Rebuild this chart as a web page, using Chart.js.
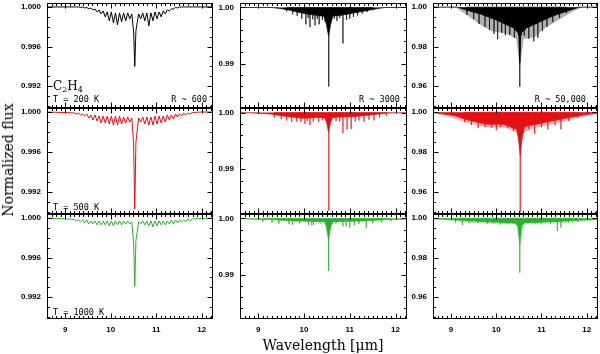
<!DOCTYPE html>
<html>
<head>
<meta charset="utf-8">
<script src="https://cdn.jsdelivr.net/npm/chart.js@4.4.0/dist/chart.umd.min.js"></script>
<style>
  body { margin: 0; background: #fff; }
  #figure { position: relative; width: 600px; height: 354px; overflow: hidden; background: #fff; }
  .panel { position: absolute; }
  .note { position: absolute; white-space: pre; color: #000; line-height: 1; }
  .mono { font: 8.5px 'DejaVu Sans Mono'; }
  .title { font: 14px 'DejaVu Serif'; }
</style>
</head>
<body>
<div id="figure"></div>
<script>
// Tick labels and annotations
const wavelengthTicks = [9, 10, 11, 12];
const fluxTicks600 = [0.992, 0.996, 1.000];
const fluxTicks3000 = [0.99, 1.00];
const fluxTicks50000 = [0.96, 0.98, 1.00];
const temperatureLabels = ['T = 200 K', 'T = 500 K', 'T = 1000 K'];
const resolutionLabels = ['R ~ 600', 'R ~ 3000', 'R ~ 50,000'];

// R ~ 600: wavelength grid and flux per temperature
const wl600 = [8.55, 9.00, 9.20, 9.25, 9.295, 9.34, 9.385, 9.43, 9.475, 9.52, 9.565, 9.61, 9.655, 9.70, 9.745,
  9.79, 9.835, 9.88, 9.925, 9.97, 10.015, 10.06, 10.105, 10.15, 10.195, 10.24, 10.285, 10.33, 10.375, 10.42,
  10.465, 10.505, 10.53, 10.555, 10.615, 10.66, 10.705, 10.75, 10.795, 10.84, 10.885, 10.93, 10.975, 11.02,
  11.065, 11.11, 11.155, 11.20, 11.245, 11.29, 11.335, 11.38, 11.425, 11.47, 11.515, 11.56, 11.605, 11.65,
  11.695, 11.74, 11.80, 12.00, 12.30];
const flux600T200 = [1.0000, 1.0000, 1.0000, 1.0000, 1.0000, 0.99995, 1.0000, 0.9999, 0.99995, 0.9998, 0.9999,
  0.9997, 0.9998, 0.9995, 0.9997, 0.9993, 0.9996, 0.9990, 0.9995, 0.9986, 0.9995, 0.9984, 0.9994, 0.9982,
  0.9994, 0.9985, 0.9994, 0.9986, 0.9994, 0.9988, 0.9993, 0.9975, 0.9940, 0.9976, 0.9993, 0.9988, 0.9994,
  0.9986, 0.9994, 0.9981, 0.9994, 0.9986, 0.9995, 0.9988, 0.9995, 0.9990, 0.9996, 0.9993, 0.9997, 0.9996,
  0.9998, 0.9998, 0.99995, 0.9999, 1.0000, 1.0000, 1.0000, 1.0000, 1.0000, 1.0000, 1.0000, 1.0000, 1.0000];
const flux600T500 = [1.0000, 0.99995, 0.9999, 0.9998, 0.9999, 0.9997, 0.9998, 0.9996, 0.9998, 0.9994, 0.9997,
  0.9992, 0.9997, 0.9991, 0.9996, 0.9989, 0.9996, 0.9989, 0.9996, 0.9988, 0.9996, 0.9987, 0.9996, 0.9987,
  0.9996, 0.9988, 0.9995, 0.9989, 0.9995, 0.9990, 0.9994, 0.9968, 0.9903, 0.9970, 0.9994, 0.9990, 0.9995,
  0.9988, 0.9995, 0.9987, 0.9995, 0.9987, 0.9996, 0.9988, 0.9996, 0.9989, 0.9996, 0.9990, 0.9997, 0.9992,
  0.9997, 0.9993, 0.9998, 0.9995, 0.9998, 0.9996, 0.9999, 0.9997, 0.9999, 0.9998, 0.99995, 1.0000, 1.0000];
const flux600T1000 = [1.0000, 0.9999, 0.99985, 0.9997, 0.9998, 0.9996, 0.9998, 0.9995, 0.9998, 0.9994, 0.9997,
  0.9994, 0.9997, 0.9993, 0.9997, 0.9993, 0.9997, 0.9993, 0.9997, 0.9992, 0.9997, 0.9992, 0.9997, 0.9993,
  0.9997, 0.9993, 0.9997, 0.9994, 0.9997, 0.9994, 0.9996, 0.9975, 0.9931, 0.9977, 0.9996, 0.9994, 0.9997,
  0.9993, 0.9997, 0.9992, 0.9997, 0.9991, 0.9997, 0.9992, 0.9997, 0.9993, 0.9997, 0.9993, 0.9997, 0.9994,
  0.9998, 0.9994, 0.9998, 0.9995, 0.9998, 0.9996, 0.9998, 0.9996, 0.9999, 0.9997, 0.9999, 0.99995, 1.0000];

// R ~ 3000: lower edge of the dense line forest, and single deep lines [wavelength, flux]
const forest3000T200 = [[8.55, 1.0], [9.3, 1.0], [9.5, 0.9998], [9.7, 0.9995], [9.9, 0.9991], [10.1, 0.9988],
  [10.3, 0.9986], [10.44, 0.9984], [10.49, 0.9970], [10.535, 0.9950], [10.58, 0.9970], [10.63, 0.9985],
  [10.8, 0.9986], [11.0, 0.9989], [11.2, 0.9992], [11.4, 0.9995], [11.6, 0.9998], [11.75, 1.0], [12.3, 1.0]];
const lines3000T200 = [[9.62, 0.9993], [9.75, 0.9988], [9.85, 0.9985], [9.95, 0.9980], [10.04, 0.9970],
  [10.09, 0.9981], [10.13, 0.9965], [10.19, 0.9979], [10.24, 0.9968], [10.29, 0.9980], [10.33, 0.9970],
  [10.40, 0.9978], [10.46, 0.9975], [10.54, 0.9859], [10.66, 0.9980], [10.72, 0.9976], [10.78, 0.9981],
  [10.85, 0.9936], [10.93, 0.9978], [11.00, 0.9980], [11.08, 0.9983], [11.17, 0.9986], [11.27, 0.9989],
  [11.38, 0.9992], [11.50, 0.9995]];
const forest3000T500 = [[8.55, 1.0], [8.8, 0.99995], [9.26, 0.99975], [9.62, 0.9993], [9.98, 0.9990],
  [10.35, 0.99915], [10.46, 0.9990], [10.50, 0.9980], [10.535, 0.9965], [10.57, 0.9980], [10.62, 0.9991],
  [10.72, 0.9992], [11.09, 0.9993], [11.45, 0.99957], [11.82, 0.9999], [12.3, 1.0]];
const lines3000T500 = [[9.35, 0.9991], [9.50, 0.9988], [9.62, 0.9986], [9.73, 0.9983], [9.84, 0.9984],
  [9.93, 0.9983], [10.02, 0.9980], [10.07, 0.9985], [10.13, 0.9978], [10.20, 0.9984], [10.32, 0.9983],
  [10.40, 0.9986], [10.54, 0.9827], [10.70, 0.9985], [10.78, 0.9984], [10.85, 0.99637], [10.94, 0.9970],
  [11.03, 0.9971], [11.12, 0.9984], [11.20, 0.9986], [11.31, 0.9984], [11.42, 0.9987], [11.53, 0.9986],
  [11.65, 0.9991], [11.80, 0.9994]];
const forest3000T1000 = [[8.55, 1.0], [8.8, 0.9999], [9.3, 0.9998], [9.8, 0.99955], [10.2, 0.9995],
  [10.45, 0.9994], [10.49, 0.9985], [10.535, 0.9962], [10.58, 0.9985], [10.63, 0.9994], [10.8, 0.9995],
  [11.3, 0.99955], [11.8, 0.9998], [12.3, 0.9999]];
const lines3000T1000 = [[9.10, 0.9994], [9.30, 0.9992], [9.45, 0.9991], [9.67, 0.9990], [9.75, 0.9989],
  [9.90, 0.9991], [10.10, 0.9988], [10.17, 0.9988], [10.21, 0.9989], [10.35, 0.9991], [10.535, 0.99064],
  [10.70, 0.9991], [10.85, 0.9986], [10.92, 0.9986], [11.00, 0.99832], [11.10, 0.9988], [11.20, 0.9990],
  [11.36, 0.9983], [11.50, 0.9991], [11.70, 0.9993], [11.90, 0.9995]];

// R ~ 50,000: solid forest edge, sparser haze below it, single deep lines
const forest50000T200 = [[8.55, 1.0], [9.15, 1.0], [9.3, 0.9988], [9.65, 0.9965], [10.0, 0.9935],
  [10.38, 0.9895], [10.48, 0.9870], [10.50, 0.9850], [10.52, 0.9720], [10.54, 0.9850], [10.56, 0.9870],
  [10.67, 0.9895], [10.96, 0.9925], [11.25, 0.9955], [11.54, 0.9978], [11.83, 1.0], [12.3, 1.0]];
const haze50000T200 = [[8.55, 1.0], [9.1, 1.0], [9.3, 0.997], [9.6, 0.992], [9.9, 0.988], [10.2, 0.987],
  [10.45, 0.984], [10.52, 0.970], [10.6, 0.984], [10.85, 0.985], [11.1, 0.990], [11.4, 0.994], [11.7, 0.998],
  [11.9, 1.0], [12.3, 1.0]];
const lines50000T200 = [[9.35, 0.9960], [9.50, 0.9940], [9.62, 0.9915], [9.75, 0.9900], [9.85, 0.9885],
  [9.95, 0.9865], [10.03, 0.9838], [10.12, 0.9870], [10.20, 0.9858], [10.30, 0.9860], [10.40, 0.9845],
  [10.52, 0.9598], [10.62, 0.9855], [10.72, 0.9840], [10.83, 0.9827], [10.92, 0.9845], [11.02, 0.9880],
  [11.12, 0.9900], [11.25, 0.9925], [11.40, 0.9945], [11.55, 0.9970]];
const forest50000T500 = [[8.55, 0.9999], [8.63, 0.9998], [9.07, 0.9983], [9.43, 0.9957], [9.8, 0.9940],
  [10.16, 0.9940], [10.45, 0.9914], [10.49, 0.9870], [10.53, 0.9786], [10.57, 0.9870], [10.62, 0.9925],
  [10.67, 0.9931], [10.89, 0.9940], [11.25, 0.9957], [11.61, 0.9974], [11.97, 0.9988], [12.19, 0.9995],
  [12.3, 0.9997]];
const haze50000T500 = [[8.55, 0.9998], [9.0, 0.9975], [9.4, 0.9945], [9.8, 0.9925], [10.2, 0.9925],
  [10.45, 0.9900], [10.53, 0.9850], [10.6, 0.9900], [10.9, 0.9925], [11.3, 0.9945], [11.7, 0.9968],
  [12.0, 0.9983], [12.3, 0.9992]];
const lines50000T500 = [[9.30, 0.9950], [9.45, 0.9935], [9.60, 0.9920], [9.75, 0.9925], [9.90, 0.9922],
  [10.00, 0.9909], [10.10, 0.9925], [10.25, 0.9920], [10.38, 0.9905], [10.53, 0.9499], [10.72, 0.9915],
  [10.85, 0.9892], [11.00, 0.9925], [11.14, 0.9914], [11.30, 0.9935], [11.43, 0.9914], [11.60, 0.9955],
  [11.80, 0.9972]];
const forest50000T1000 = [[8.55, 0.9998], [9.0, 0.9993], [9.5, 0.9985], [10.0, 0.9980], [10.42, 0.9975],
  [10.48, 0.9960], [10.52, 0.9882], [10.56, 0.9960], [10.62, 0.9977], [11.0, 0.9980], [11.5, 0.9985],
  [12.0, 0.9992], [12.3, 0.9995]];
const haze50000T1000 = [[8.55, 0.9996], [9.0, 0.9988], [9.5, 0.9978], [10.0, 0.9972], [10.45, 0.9968],
  [10.52, 0.9850], [10.6, 0.9968], [11.0, 0.9972], [11.5, 0.9978], [12.0, 0.9986], [12.3, 0.9990]];
const lines50000T1000 = [[9.10, 0.9978], [9.25, 0.9965], [9.40, 0.9975], [9.60, 0.9975], [9.80, 0.9972],
  [9.95, 0.9975], [10.09, 0.9968], [10.25, 0.9972], [10.52, 0.9724], [10.70, 0.9975], [10.85, 0.9972],
  [11.00, 0.9975], [11.20, 0.9972], [11.35, 0.9935], [11.43, 0.9952], [11.60, 0.9978], [11.80, 0.9982]];

// Layout and style
const columnBox = [[47, 213], [240, 407], [433, 598]];
const rowBox = [[3, 108], [108, 214], [214, 319]];
const rowColor = ['0,0,0', '228,16,20', '40,178,40'];
const columnScale = [
  { min: 0.9898, max: 1.0004, ticks: fluxTicks600, digits: 3, minor: 0.001, per: 4 },
  { min: 0.9821, max: 1.0008, ticks: fluxTicks3000, digits: 2, minor: 0.002, per: 5 },
  { min: 0.9490, max: 1.0021, ticks: fluxTicks50000, digits: 2, minor: 0.005, per: 4 }
];
const xMin = 8.6, xMax = 12.25;
const axisW = 47, pad = 3, xAxisH = 22;
const tickFont = { family: 'Liberation Sans', size: 8, weight: 'bold' };

// Frame with inward ticks on all four sides
const frame = {
    id: 'frame',
    afterDatasetsDraw(chart, args, opts) {
        const { ctx, chartArea: a, scales: { x, y } } = chart;
        const L = Math.round(a.left) + 0.5, R = Math.round(a.right) - 0.5;
        const T = Math.round(a.top) + 0.5, B = Math.round(a.bottom) - 0.5;
        ctx.save();
        ctx.strokeStyle = '#000';
        ctx.lineWidth = 1;
        ctx.beginPath();
        for (let i = Math.ceil(x.min * 10 - 1e-6); i <= x.max * 10 + 1e-6; i++) {
            const px = Math.round(x.getPixelForValue(i / 10)) + 0.5;
            const len = i % 10 === 0 ? 5 : 2.5;
            ctx.moveTo(px, B); ctx.lineTo(px, B - len);
            ctx.moveTo(px, T); ctx.lineTo(px, T + len);
        }
        for (let i = Math.ceil(y.min / opts.minor - 1e-6); i * opts.minor <= y.max + 1e-9; i++) {
            const py = Math.round(y.getPixelForValue(i * opts.minor)) + 0.5;
            const len = i % opts.per === 0 ? 5 : 2.5;
            ctx.moveTo(L, py); ctx.lineTo(L + len, py);
            ctx.moveTo(R, py); ctx.lineTo(R - len, py);
        }
        ctx.stroke();
        ctx.strokeRect(L, T, R - L, B - T);
        ctx.restore();
    }
};

function pairs(list) {
    return list.map(([x, y]) => ({ x, y }));
}

function spikes(list) {
    return list.flatMap(([x, y]) => [{ x, y: 1 }, { x, y }, { x, y: 1 }]);
}

// Datasets for one panel
function panelDatasets(row, col) {
    const c = rowColor[row];
    const solid = `rgb(${c})`;
    if (col === 0) {
        const flux = [flux600T200, flux600T500, flux600T1000][row];
        return [{ data: wl600.map((w, i) => ({ x: w, y: flux[i] })), borderColor: solid, borderWidth: 1 }];
    }
    const forest = col === 1 ? [forest3000T200, forest3000T500, forest3000T1000][row]
                             : [forest50000T200, forest50000T500, forest50000T1000][row];
    const lines = col === 1 ? [lines3000T200, lines3000T500, lines3000T1000][row]
                            : [lines50000T200, lines50000T500, lines50000T1000][row];
    const sets = [
        { data: spikes(lines), borderColor: solid, borderWidth: 0.7 },
        { data: pairs(forest), borderColor: solid, borderWidth: 0.8, backgroundColor: solid, fill: { value: 1 } }
    ];
    if (col === 2) {
        const haze = [haze50000T200, haze50000T500, haze50000T1000][row];
        sets.push({ data: pairs(haze), borderColor: `rgba(${c},0.3)`, borderWidth: 0.5,
                    backgroundColor: `rgba(${c},0.3)`, fill: { value: 1 } });
    }
    return sets;
}

const figure = document.getElementById('figure');

// Keep the plot box exactly where it is placed: no extra room for edge labels
function noEdgePadding(sc) {
    sc.paddingTop = 0; sc.paddingBottom = 0; sc.paddingLeft = 0; sc.paddingRight = 0;
}

function makePanel(row, col) {
    const [x0, x1] = columnBox[col];
    const [y0, y1] = rowBox[row];
    const s = columnScale[col];
    const bottom = row === 2;
    const w = axisW + (x1 - x0) + pad;
    const h = pad + (y1 - y0) + (bottom ? xAxisH : 0) + pad;
    const canvas = document.createElement('canvas');
    canvas.className = 'panel';
    canvas.width = w; canvas.height = h;
    canvas.style.left = (x0 - axisW) + 'px';
    canvas.style.top = (y0 - pad) + 'px';
    figure.appendChild(canvas);

    new Chart(canvas, {
        type: 'line',
        data: { datasets: panelDatasets(row, col) },
        options: {
            responsive: false,
            animation: false,
            devicePixelRatio: 1,
            layout: { padding: { top: pad, right: pad, bottom: pad, left: 0 } },
            elements: { point: { radius: 0 }, line: { tension: 0 } },
            plugins: { legend: { display: false }, tooltip: { enabled: false }, frame: { minor: s.minor, per: s.per } },
            scales: {
                x: {
                    type: 'linear', min: xMin, max: xMax,
                    grid: { display: false, drawTicks: false }, border: { display: false },
                    afterBuildTicks: sc => { sc.ticks = wavelengthTicks.map(v => ({ value: v })); },
                    ticks: { display: bottom, font: tickFont, color: '#000', padding: 6, maxRotation: 0,
                             callback: v => String(v) },
                    afterFit: sc => { sc.height = bottom ? xAxisH : 0; noEdgePadding(sc); }
                },
                y: {
                    type: 'linear', min: s.min, max: s.max,
                    grid: { display: false, drawTicks: false }, border: { display: false },
                    afterBuildTicks: sc => { sc.ticks = s.ticks.map(v => ({ value: v })); },
                    ticks: { font: tickFont, color: '#000', padding: 6, callback: v => v.toFixed(s.digits) },
                    afterFit: sc => { sc.width = axisW; noEdgePadding(sc); }
                }
            }
        },
        plugins: [frame]
    });
}

function addNote(html, cls, style) {
    const d = document.createElement('div');
    d.className = 'note ' + cls;
    d.innerHTML = html;
    Object.assign(d.style, style);
    figure.appendChild(d);
    return d;
}

document.addEventListener('DOMContentLoaded', () => {
    for (let r = 0; r < 3; r++) {
        for (let c = 0; c < 3; c++) makePanel(r, c);
    }
    const tTop = [94, 202, 307];
    temperatureLabels.forEach((t, r) => addNote(t, 'mono', { left: '53px', top: tTop[r] + 'px' }));
    const rRight = [207, 400, 586];
    resolutionLabels.forEach((t, c) => addNote(t, 'mono', { right: (600 - rRight[c]) + 'px', top: tTop[0] + 'px' }));
    addNote('C<sub style="font-size:8px;vertical-align:-2px">2</sub>H<sub style="font-size:8px;vertical-align:-2px">4</sub>',
            '', { left: '53px', top: '79px', font: "12px 'DejaVu Serif'" });
    addNote('Normalized flux', 'title', { left: '8px', top: '160px', transform: 'translate(-50%, -50%) rotate(-90deg)' });
    addNote('Wavelength [μm]', 'title', { left: '323px', top: '345px', transform: 'translate(-50%, -50%)' });
});
</script>
</body>
</html>
